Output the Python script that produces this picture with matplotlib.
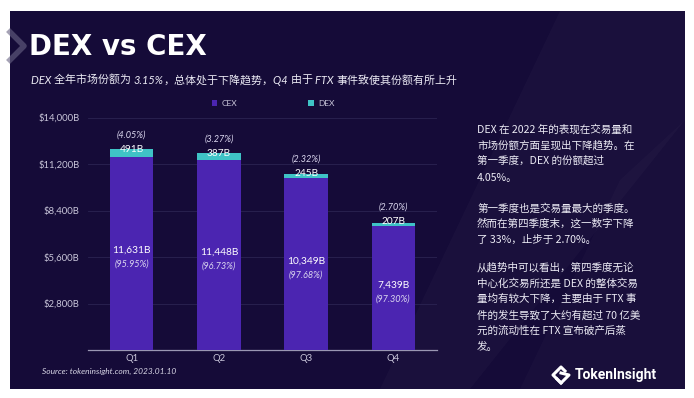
import matplotlib.pyplot as plt
from matplotlib.patches import Rectangle, Polygon
import numpy as np

# datos del grafico
quarters = ["Q1", "Q2", "Q3", "Q4"]
cex_vol = [11631, 11448, 10349, 7439]
dex_vol = [491, 387, 245, 207]
cex_pct = ["95.95%", "96.73%", "97.68%", "97.30%"]
dex_pct = ["4.05%", "3.27%", "2.32%", "2.70%"]
y_ticks = [2800, 5600, 8400, 11200, 14000]

BG = "#150b38"
CEX_C = "#4b25b1"
DEX_C = "#3fc3c6"
TXT = "#ecebf5"
CJK = ["Noto Sans CJK SC", "DejaVu Sans"]
LAT = ["Lato", "Noto Sans CJK SC", "DejaVu Sans"]

W, H = 694, 398


def px(x, y):
    # pixeles (origen arriba) -> fraccion de figura
    return x / W, 1 - y / H


fig = plt.figure(figsize=(W / 100, H / 100), dpi=100, facecolor="white")

# fondo oscuro
fig.patches.append(Rectangle(px(10, 389), 675 / W, 378 / H, transform=fig.transFigure,
                             facecolor=BG, edgecolor="none", zorder=-5))
# bandas diagonales tenues
for pts, a in [([(560, 11), (685, 11), (685, 120), (470, 389), (380, 389)], 0.025),
               ([(620, 180), (685, 120), (685, 389), (520, 389)], 0.02)]:
    fig.patches.append(Polygon([px(*p) for p in pts], closed=True, transform=fig.transFigure,
                               facecolor="white", alpha=a, edgecolor="none", zorder=-4))
# chevron a la izquierda
fig.lines.append(plt.Line2D([px(10, 32)[0], px(24, 46)[0], px(10, 60)[0]],
                            [px(10, 32)[1], px(24, 46)[1], px(10, 60)[1]],
                            transform=fig.transFigure, color="#6a6585", lw=4, alpha=0.6,
                            zorder=-3))

# titulo
fig.text(*px(29, 47), "DEX vs CEX", family=["DejaVu Sans"], weight="bold", fontsize=20,
         color="white", va="center", ha="left")

# subtitulo con partes en cursiva
pieces = [("DEX ", True), ("全年市场份额为 ", False), ("3.15%", True),
          ("，总体处于下降趋势，", False), ("Q4 ", True), ("由于 ", False),
          ("FTX ", True), ("事件致使其份额有所上升", False)]
renderer = fig.canvas.get_renderer()
x_cur = 31
for txt, ital in pieces:
    if ital:
        t = fig.text(*px(x_cur, 80), txt, family=LAT, style="italic", fontsize=7.9,
                     color=TXT, va="center", ha="left")
    else:
        t = fig.text(*px(x_cur, 80), txt, family=CJK, fontsize=7.9,
                     color=TXT, va="center", ha="left")
    bb = t.get_window_extent(renderer)
    x_cur += bb.width

# ejes
ax = fig.add_axes([88 / W, (H - 350) / H, 349 / W, (350 - 117.5) / H])
ax.set_zorder(2)
ax.set_facecolor("none")
x = np.arange(len(quarters))
width = 0.5
ax.bar(x, cex_vol, width, color=CEX_C, label="CEX", zorder=3)
ax.bar(x, dex_vol, width, bottom=cex_vol, color=DEX_C, label="DEX", zorder=3)

for i in range(len(quarters)):
    mid = cex_vol[i] / 2
    ax.annotate(f"{cex_vol[i]:,}B", (x[i], mid), xytext=(0, 2), textcoords="offset points",
                ha="center", va="center", color="white", fontsize=7.3, family=LAT, zorder=4)
    ax.annotate(f"({cex_pct[i]})", (x[i], mid), xytext=(0, -8), textcoords="offset points",
                ha="center", va="center", color="#dcd8f0", fontsize=6.6, family=LAT,
                style="italic", zorder=4)
    top_mid = cex_vol[i] + dex_vol[i] / 2
    ax.annotate(f"{dex_vol[i]}B", (x[i], top_mid), xytext=(0, 2), textcoords="offset points",
                ha="center", va="center", color="white", fontsize=7.3, family=LAT,
                annotation_clip=False, zorder=4)
    ax.annotate(f"({dex_pct[i]})", (x[i], top_mid), xytext=(0, 12.5), textcoords="offset points",
                ha="center", va="center", color="#dcd8f0", fontsize=6.6, family=LAT,
                style="italic", annotation_clip=False, zorder=4)

ax.set_xlim(-0.5, 3.5)
ax.set_ylim(0, 14000)
ax.set_yticks(y_ticks)
ax.set_yticklabels([f"${v:,}B" for v in y_ticks])
ax.set_xticks(x)
ax.set_xticklabels(quarters)
ax.tick_params(axis="both", length=0, colors="#c9c6da", labelsize=6.8)
ax.tick_params(axis="y", pad=6)
ax.tick_params(axis="x", pad=3)
for lab in ax.get_xticklabels() + ax.get_yticklabels():
    lab.set_family(LAT)
ax.grid(axis="y", color="#2b2452", lw=0.6, zorder=0)
for s in ["top", "right", "left"]:
    ax.spines[s].set_visible(False)
ax.spines["bottom"].set_color("#9a97b3")
ax.spines["bottom"].set_linewidth(0.9)

# leyenda
fig.legend(handles=ax.containers, labels=["CEX", "DEX"], loc="center",
           bbox_to_anchor=(px(273, 103)), ncol=2, frameon=False,
           labelcolor="#c9c6da", handlelength=0.7, handleheight=0.7, handletextpad=0.5,
           columnspacing=8.5, prop={"family": LAT, "size": 6})

# fuente
fig.text(*px(42, 371), "Source: tokeninsight.com, 2023.01.10", family=LAT, style="italic",
         fontsize=6.0, color="#d8d6e6", va="center", ha="left")

# texto lateral
side_lines = [
    ("DEX 在 2022 年的表现在交易量和", 129),
    ("市场份额方面呈现出下降趋势。在", 145),
    ("第一季度，DEX 的份额超过", 161),
    ("4.05%。", 178),
    ("第一季度也是交易量最大的季度。", 208),
    ("然而在第四季度末，这一数字下降", 224),
    ("了 33%，止步于 2.70%。", 240),
    ("从趋势中可以看出，第四季度无论", 267),
    ("中心化交易所还是 DEX 的整体交易", 283),
    ("量均有较大下降，主要由于 FTX 事", 299),
    ("件的发生导致了大约有超过 70 亿美", 315),
    ("元的流动性在 FTX 宣布破产后蒸", 331),
    ("发。", 347),
]
for line, yy in side_lines:
    fig.text(*px(477, yy), line, family=CJK, fontsize=7.6, color=TXT,
             va="center", ha="left")

# logo
cx, cy = 561, 375
outer = [(cx - 8, cy), (cx, cy - 8), (cx + 8, cy), (cx, cy + 8)]
for pts in ([outer[3], outer[0], outer[1], (cx + 4, cy - 4)],
            [(cx - 4, cy + 4), outer[3], outer[2], (cx, cy - 2)]):
    fig.lines.append(plt.Line2D([px(*p)[0] for p in pts], [px(*p)[1] for p in pts],
                                transform=fig.transFigure, color="white", lw=2.2))
fig.text(*px(575, 375), "TokenInsight", family=["Roboto", "DejaVu Sans"], weight="bold",
         fontsize=10, color="white", va="center", ha="left")

fig.savefig("out.png", dpi=100, facecolor="white")
